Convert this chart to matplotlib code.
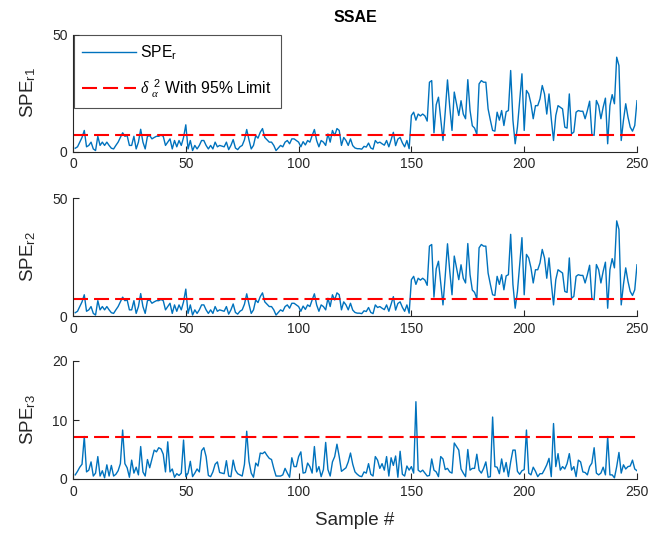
import numpy as np
import matplotlib
matplotlib.use("Agg")
import matplotlib.pyplot as plt

plt.rcParams['font.family'] = ['Liberation Sans', 'DejaVu Sans']
plt.rcParams['mathtext.fontset'] = 'custom'
plt.rcParams['mathtext.rm'] = 'Liberation Sans'
plt.rcParams['mathtext.it'] = 'Liberation Serif:italic'
plt.rcParams['mathtext.bf'] = 'Liberation Sans:bold'

# SPE statistic of the first residual block (samples 1..250)
spe_r1 = [
    1.4, 2.0, 4.0, 6.0, 9.0, 2.0, 2.6, 4.0, 1.1, 0.4,
    6.5, 2.6, 4.0, 2.6, 4.0, 2.6, 1.4, 1.1, 2.6, 4.0,
    6.0, 8.0, 6.5, 6.8, 2.6, 2.6, 6.5, 1.1, 4.0, 9.5,
    4.0, 1.1, 6.5, 6.8, 5.4, 6.0, 6.5, 6.5, 7.0, 6.5,
    2.6, 4.0, 5.4, 1.1, 4.7, 2.0, 4.7, 2.6, 6.0, 11.4,
    1.1, 4.7, 0.4, 2.6, 1.1, 2.6, 4.7, 4.7, 2.6, 1.1,
    2.6, 1.1, 4.0, 2.0, 2.6, 2.3, 2.0, 4.0, 0.8, 2.6,
    5.1, 1.5, 0.8, 2.0, 2.6, 5.0, 9.4, 5.0, 1.1, 2.6,
    6.8, 5.7, 8.2, 9.8, 6.0, 5.0, 4.0, 4.0, 2.6, 0.4,
    1.5, 2.6, 2.0, 4.0, 4.7, 3.3, 5.4, 5.4, 4.7, 4.0,
    2.0, 4.2, 2.8, 4.7, 4.0, 6.8, 9.4, 4.7, 2.0, 4.7,
    4.0, 2.6, 7.5, 4.0, 9.0, 6.8, 9.8, 9.0, 2.6, 6.0,
    4.7, 2.6, 5.4, 2.5, 1.5, 1.2, 1.2, 1.0, 2.2, 1.9,
    3.6, 1.5, 1.0, 4.7, 3.6, 4.0, 3.3, 2.7, 4.7, 2.0,
    5.0, 8.2, 2.5, 5.3, 6.0, 3.7, 2.0, 4.7, 1.2, 15.4,
    16.8, 13.4, 16.0, 15.2, 16.0, 15.2, 13.0, 29.6, 30.3, 8.0,
    20.0, 23.2, 14.0, 4.7, 17.0, 30.6, 19.0, 9.0, 25.4, 20.4,
    15.4, 21.7, 16.0, 14.0, 30.7, 17.5, 11.0, 10.0, 7.3, 28.9,
    30.3, 29.6, 29.6, 18.2, 13.4, 9.0, 8.7, 16.8, 13.4, 17.5,
    11.1, 17.0, 17.5, 34.6, 13.4, 3.3, 10.4, 21.8, 33.2, 9.0,
    26.1, 24.6, 20.4, 14.0, 19.6, 19.6, 22.5, 28.2, 24.6, 16.0,
    24.6, 14.0, 4.7, 15.4, 19.6, 18.9, 18.2, 10.4, 10.0, 24.6,
    7.5, 8.3, 16.8, 17.5, 17.2, 17.2, 14.0, 17.5, 21.5, 7.3,
    6.9, 21.8, 19.6, 14.0, 18.9, 22.8, 3.3, 19.6, 24.3, 20.4,
    40.3, 36.7, 4.7, 13.4, 20.4, 14.7, 10.4, 8.7, 11.1, 21.7,
]

# second block follows the first one
spe_r2 = list(spe_r1)

# SPE statistic of the third residual block
spe_r3 = [
    0.7, 1.3, 2.0, 2.5, 7.2, 1.2, 1.5, 2.9, 0.5, 1.0,
    3.8, 0.5, 1.4, 0.2, 2.4, 0.5, 2.3, 0.5, 0.8, 1.4,
    2.6, 8.3, 2.6, 1.9, 0.3, 3.2, 1.0, 2.0, 0.7, 5.5,
    1.2, 0.5, 3.3, 1.9, 3.4, 4.9, 4.6, 5.3, 5.1, 4.2,
    1.2, 6.3, 1.2, 1.7, 0.3, 0.9, 0.6, 1.0, 6.6, 0.4,
    1.0, 3.0, 0.4, 1.0, 1.7, 1.2, 4.8, 5.3, 3.8, 0.6,
    0.4, 1.2, 2.5, 2.9, 1.1, 1.0, 0.9, 3.1, 0.5, 0.4,
    3.2, 1.5, 0.9, 0.7, 0.5, 2.5, 8.1, 3.0, 1.0, 0.3,
    2.7, 2.2, 4.4, 4.3, 4.6, 4.0, 3.5, 3.3, 1.8, 0.5,
    0.5, 0.5, 0.7, 1.8, 1.0, 0.3, 3.6, 2.1, 2.1, 3.8,
    4.6, 1.0, 1.1, 2.7, 2.1, 1.0, 5.5, 1.2, 2.1, 0.4,
    1.6, 6.2, 1.6, 0.5, 2.9, 3.8, 5.9, 3.8, 1.3, 1.6,
    1.9, 2.9, 4.4, 2.5, 1.2, 0.8, 0.5, 0.4, 1.2, 1.0,
    2.6, 0.8, 0.5, 3.8, 3.2, 1.8, 2.6, 1.5, 3.8, 0.5,
    3.6, 2.3, 3.9, 0.3, 4.7, 0.8, 0.5, 2.2, 1.5, 2.1,
    1.0, 13.1, 1.5, 1.2, 1.5, 1.0, 0.5, 0.6, 3.4, 1.5,
    1.2, 0.4, 3.8, 3.4, 1.6, 1.8, 1.2, 1.0, 6.1, 5.5,
    4.9, 1.7, 1.0, 0.4, 5.0, 1.5, 1.8, 1.8, 4.2, 1.5,
    1.0, 1.8, 2.9, 0.3, 0.4, 10.5, 2.1, 2.0, 0.9, 3.4,
    1.2, 2.8, 0.4, 2.9, 4.9, 4.9, 1.3, 0.8, 1.4, 1.6,
    8.3, 1.0, 0.7, 2.0, 1.3, 0.4, 0.9, 0.9, 1.6, 2.4,
    3.5, 0.4, 9.4, 2.1, 4.3, 1.5, 2.1, 1.7, 2.6, 4.3,
    1.5, 2.1, 0.4, 3.2, 2.9, 1.2, 1.1, 0.7, 2.1, 2.7,
    5.3, 1.0, 0.7, 1.0, 2.0, 0.7, 7.2, 0.7, 0.7, 0.2,
    2.1, 4.5, 1.0, 2.4, 1.7, 2.1, 2.2, 3.2, 1.7, 1.4,
]

# 95% control limits
limits = [7.0, 7.0, 7.15]
y_limits = [50, 50, 20]
y_ticks = [[0, 50], [0, 50], [0, 10, 20]]
y_labels = [r'SPE$_{\rm r1}$', r'SPE$_{\rm r2}$', r'SPE$_{\rm r3}$']
x_ticks = [0, 50, 100, 150, 200, 250]

samples = np.arange(1, len(spe_r1) + 1)
series = [spe_r1, spe_r2, spe_r3]

W, H = 654, 537
fig = plt.figure(figsize=(W / 100, H / 100), dpi=100)

# axes boxes in pixels: left, top, right, bottom
boxes = [(73, 34.5, 637, 151.5), (73, 198, 637, 316), (73, 361, 637, 479)]

blue = '#0072BD'
dark = '#262626'
axes = []
for i, (l, t, r, b) in enumerate(boxes):
    ax = fig.add_axes([l / W, 1 - b / H, (r - l) / W, (b - t) / H])
    axes.append(ax)
    ax.plot(samples, series[i], color=blue, lw=1.0, label=r'SPE$_{\rm r}$')
    ax.plot([samples[0] - 1, samples[-1]], [limits[i], limits[i]],
            color='#FF0000', lw=1.5, dashes=(7.2, 2.9),
            label=r'$\delta\ _{\alpha}^{\ 2}$ With 95% Limit')
    ax.set_xlim(0, 250)
    ax.set_ylim(0, y_limits[i])
    ax.set_xticks(x_ticks)
    ax.set_yticks(y_ticks[i])
    ax.spines['top'].set_visible(False)
    ax.spines['right'].set_visible(False)
    for s in ('left', 'bottom'):
        ax.spines[s].set_color(dark)
        ax.spines[s].set_linewidth(0.8)
    ax.tick_params(direction='in', length=4.5, width=0.8, colors=dark,
                   labelsize=10, labelcolor=dark, pad=4)
    ax.set_ylabel(y_labels[i], fontsize=13.5, color=dark, labelpad=10)
    if i == 0:
        ax.set_title('SSAE', fontsize=11.5, fontweight='bold', pad=9)
        leg = ax.legend(loc='upper left', fontsize=11.3, frameon=True, fancybox=False,
                        handlelength=3.4, handletextpad=0.3, borderpad=0.55,
                        borderaxespad=0.05, labelspacing=0.95)
        leg.get_frame().set_edgecolor(dark)
        leg.get_frame().set_linewidth(0.8)
    if i == 2:
        ax.set_xlabel('Sample #', fontsize=13.5, color=dark, labelpad=10)

fig.savefig('out.png', dpi=100)
